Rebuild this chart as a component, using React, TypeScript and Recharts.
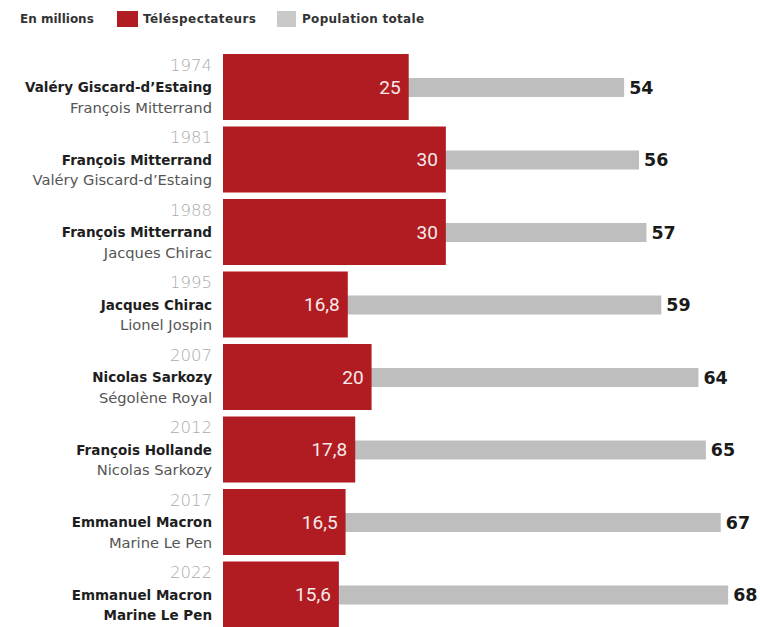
import React from 'react';
import { BarChart, Bar, XAxis, YAxis, LabelList } from 'recharts';

const years = ['1974', '1981', '1988', '1995', '2007', '2012', '2017', '2022'];
const winners = [
  'Valéry Giscard-d\u2019Estaing',
  'François Mitterrand',
  'François Mitterrand',
  'Jacques Chirac',
  'Nicolas Sarkozy',
  'François Hollande',
  'Emmanuel Macron',
  'Emmanuel Macron',
];
const runnersUp = [
  'François Mitterrand',
  'Valéry Giscard-d\u2019Estaing',
  'Jacques Chirac',
  'Lionel Jospin',
  'Ségolène Royal',
  'Nicolas Sarkozy',
  'Marine Le Pen',
  'Marine Le Pen',
];
const runnerUpBold = [false, false, false, false, false, false, false, true];
const viewers = [25, 30, 30, 16.8, 20, 17.8, 16.5, 15.6];
const population = [54, 56, 57, 59, 64, 65, 67, 68];

const data = years.map((y, i) => ({ year: y, viewers: viewers[i], population: population[i] }));

const RED = '#B01C22';
const GREY = '#BEBEBE';
const FONT = 'Roboto, "Liberation Sans", sans-serif';
const LFONT = '"DejaVu Sans", "Open Sans", sans-serif';

const fmt = (v: any) => String(v).replace('.', ',');

const Tick = (props: any) => {
  const { y, payload } = props;
  const i = years.indexOf(payload.value);
  const tx = 212;
  return (
    <g fontFamily={LFONT}>
      <text x={tx} y={y - 22} textAnchor="end" dominantBaseline="central" fill="#ababab" fontSize={16.5} fontWeight={300}>
        {years[i]}
      </text>
      <text x={tx} y={y} textAnchor="end" dominantBaseline="central" fill="#1e1e1e" fontSize={13.5} fontWeight={700}>
        {winners[i]}
      </text>
      <text
        x={tx}
        y={y + 20}
        textAnchor="end"
        dominantBaseline="central"
        fill={runnerUpBold[i] ? '#1e1e1e' : '#555'}
        fontSize={runnerUpBold[i] ? 13.5 : 14.7}
        fontWeight={runnerUpBold[i] ? 700 : 400}
      >
        {runnersUp[i]}
      </text>
    </g>
  );
};

const legendText: React.CSSProperties = {
  position: 'absolute',
  top: 11,
  fontFamily: LFONT,
  fontSize: 12,
  fontWeight: 700,
  color: '#333',
  lineHeight: '16px',
  whiteSpace: 'nowrap',
};

export default function App() {
  return (
    <div style={{ position: 'absolute', left: 0, top: 0, width: 760, height: 627, background: '#fff', overflow: 'hidden' }}>
      <div style={{ position: 'absolute', left: 0, top: 0, width: 760, height: 40, zIndex: 2 }}>
        <span style={{ ...legendText, left: 20 }}>En millions</span>
        <span style={{ position: 'absolute', left: 117, top: 11, width: 21, height: 16, background: RED }} />
        <span style={{ ...legendText, left: 143, letterSpacing: 0.4 }}>Téléspectateurs</span>
        <span style={{ position: 'absolute', left: 277, top: 11, width: 19, height: 16, background: '#c9c9c9' }} />
        <span style={{ ...legendText, left: 302, letterSpacing: 0.3 }}>Population totale</span>
      </div>
      <BarChart
        width={760}
        height={631}
        data={data}
        layout="vertical"
        margin={{ top: 51, right: 17, bottom: 0, left: 0 }}
      >
        <XAxis type="number" domain={[0, 70]} hide />
        <YAxis
          yAxisId="a"
          type="category"
          dataKey="year"
          width={223}
          axisLine={false}
          tickLine={false}
          tick={<Tick />}
          interval={0}
        />
        <YAxis yAxisId="b" type="category" dataKey="year" hide />
        <Bar yAxisId="b" dataKey="population" fill={GREY} barSize={19} isAnimationActive={false}>
          <LabelList
            dataKey="population"
            position="right"
            offset={5}
            fill="#1a1a1a"
            fontSize={17.5}
            fontWeight={700}
            fontFamily={LFONT}
          />
        </Bar>
        <Bar yAxisId="a" dataKey="viewers" fill={RED} barSize={66} isAnimationActive={false}>
          <LabelList
            dataKey="viewers"
            position="insideRight"
            offset={8}
            fill="#f6eaea"
            fontSize={19}
            fontFamily={FONT}
            formatter={fmt}
          />
        </Bar>
      </BarChart>
    </div>
  );
}
